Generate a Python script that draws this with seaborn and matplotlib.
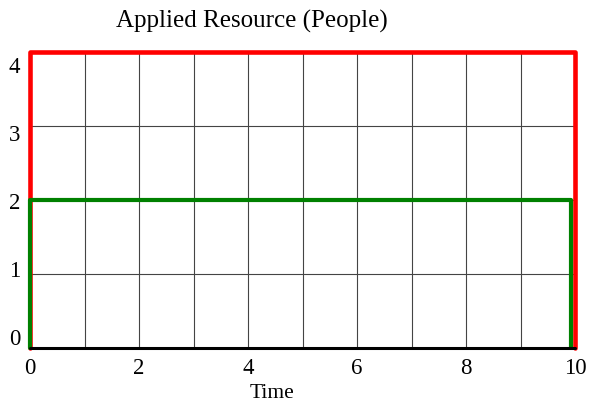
import matplotlib
matplotlib.use("Agg")
import matplotlib.pyplot as plt
import seaborn as sns
import numpy as np

# applied resource outline (red), actual staffing (green), baseline (black)
red_x = [0, 0, 10, 10]
red_y = [0, 4, 4, 0]
green_x = [0, 0, 9.92, 9.92]
green_y = [0, 2, 2, 0]
base_x = [0, 10]
base_y = [0, 0]

x_ticks = [0, 2, 4, 6, 8, 10]
y_labels = ["0", "1", "2", "3", "4"]

sns.set_theme(style="white")
plt.rcParams['font.family'] = ['Liberation Serif', 'DejaVu Serif']
plt.rcParams['text.color'] = 'black'

fig = plt.figure(figsize=(5.92, 4.04), dpi=100)
ax = fig.add_axes([30 / 592, 1 - 348 / 404, 545 / 592, 296 / 404])

for xv in range(0, 11):
    ax.axvline(xv, color="#444444", lw=0.8, zorder=1)
for yv in range(0, 5):
    ax.axhline(yv, color="#444444", lw=0.8, zorder=1)

sns.lineplot(x=red_x, y=red_y, sort=False, estimator=None, color="red", lw=3.3, ax=ax, zorder=3)
sns.lineplot(x=green_x, y=green_y, sort=False, estimator=None, color="green", lw=3.0, ax=ax, zorder=4)
sns.lineplot(x=base_x, y=base_y, sort=False, estimator=None, color="black", lw=2.2, ax=ax, zorder=5)
for ln in ax.lines:
    ln.set_clip_on(False)

ax.set_xlim(0, 10)
ax.set_ylim(0, 4)
for s in ax.spines.values():
    s.set_visible(False)
ax.set_xticks(x_ticks)
# the original's y labels drift a little from the grid rows
ax.set_yticks(0.15 + np.arange(len(y_labels)) * 0.918)
ax.set_yticklabels(y_labels)
ax.tick_params(length=0, labelsize=16.5, colors="black")
ax.tick_params(axis="x", pad=7)
ax.tick_params(axis="y", pad=7)
ax.set_xlabel("")
ax.set_ylabel("")

fig.text(252 / 592, 1 - 21 / 404, "Applied Resource (People)", ha="center", va="center", fontsize=18)
fig.text(272 / 592, 1 - 393 / 404, "Time", ha="center", va="center", fontsize=15.5)

fig.savefig("out.png", dpi=100)
